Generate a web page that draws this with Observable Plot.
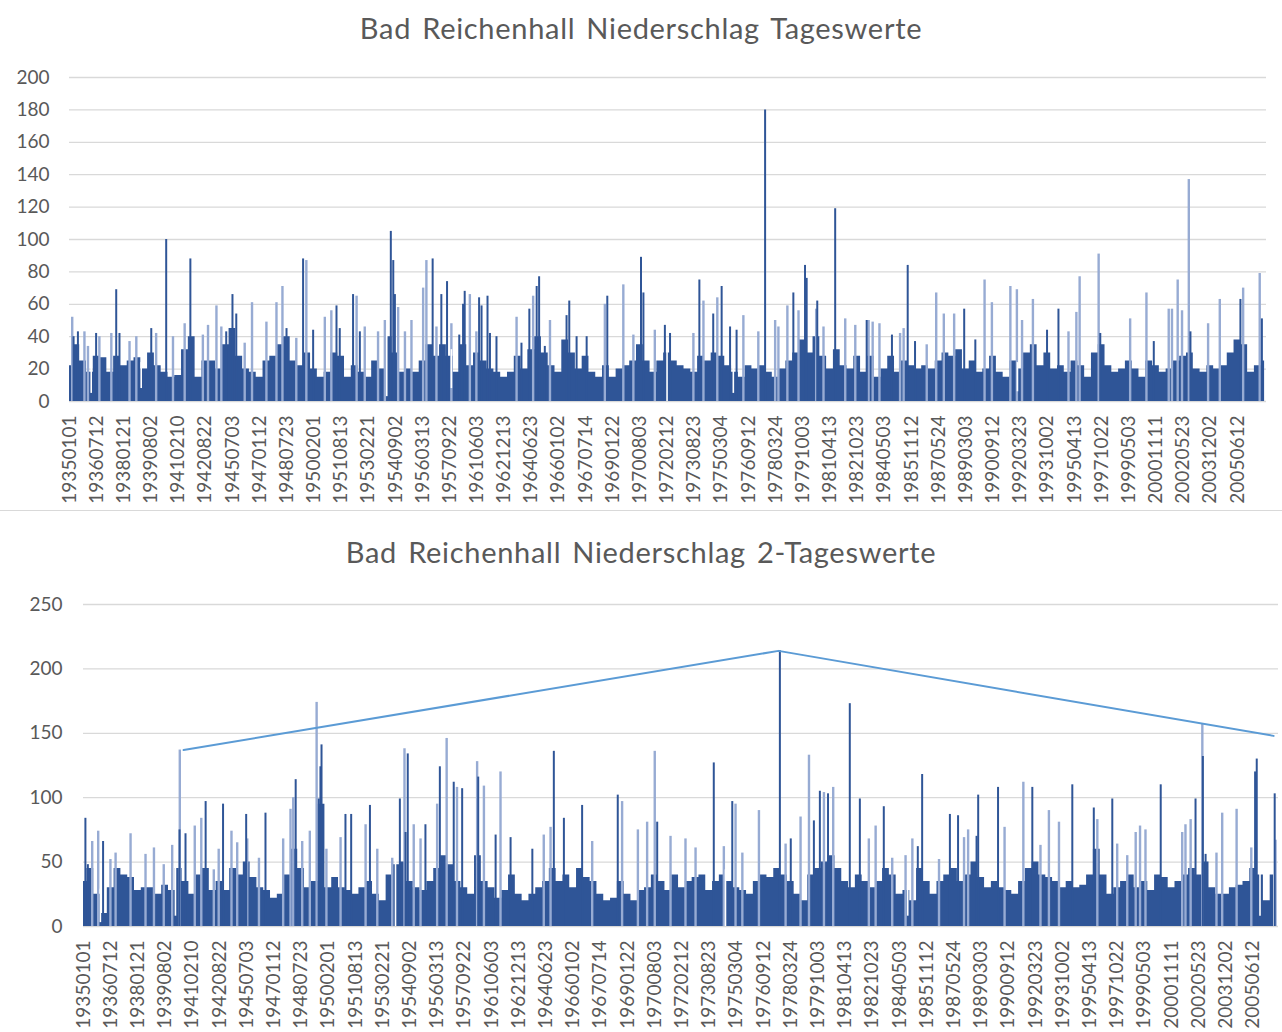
<!DOCTYPE html>
<html>
<head>
<meta charset="utf-8">
<script src="https://cdn.jsdelivr.net/npm/d3@7"></script>
<script src="https://cdn.jsdelivr.net/npm/@observablehq/plot@0.6"></script>
<style>
  html, body { margin: 0; padding: 0; background: #ffffff; }
  body { width: 1282px; height: 1032px; position: relative; overflow: hidden; font-family: Lato, "Open Sans", sans-serif; }
  .title { position: absolute; left: 0; width: 1282px; text-align: center; color: #595959; font-size: 29px; letter-spacing: 0.7px; word-spacing: 3px; }
  .chart { position: absolute; left: 0; }
  .sep { position: absolute; left: 0; width: 1282px; height: 1px; background: #d9d9d9; }
</style>
</head>
<body>
<div class="title" id="t1" style="top:10px">Bad Reichenhall Niederschlag Tageswerte</div>
<div class="chart" id="c1" style="top:60px"></div>
<div class="sep" style="top:510px"></div>
<div class="title" id="t2" style="top:534px">Bad Reichenhall Niederschlag 2-Tageswerte</div>
<div class="chart" id="c2" style="top:590px"></div>
<script>
// Category labels shown on the x axis (every 558th day of the series)
const tickLabels = ["19350101","19360712","19380121","19390802","19410210","19420822","19450703","19470112","19480723","19500201",
  "19510813","19530221","19540902","19560313","19570922","19610603","19621213","19640623","19660102","19670714",
  "19690122","19700803","19720212","19730823","19750304","19760912","19780324","19791003","19810413","19821023",
  "19840503","19851112","19870524","19890303","19900912","19920323","19931002","19950413","19971022","19990503",
  "20001111","20020523","20031202","20050612"];

// Positions are in label intervals (1 = 558 categories). Body sampled every 0.25 interval.
const tagesKoerper = [
  22,35,25,18, 28,27,18,28, 22,25,27,20, 30,22,18,15, 16,32,40,15, 25,25,20,35, 45,28,20,18, 15,25,28,35,
  40,25,22,30, 20,15,18,30, 28,15,22,18, 15,25,20,40, 30,18,20,18, 25,35,28,35, 28,18,35,22, 30,25,20,18,
  15,18,28,20, 32,40,30,22, 18,38,30,20, 28,18,15,22, 15,20,22,25, 35,25,18,25, 30,25,22,20, 18,28,25,30,
  28,22,18,15, 22,20,22,18, 15,20,25,30, 38,30,40,28, 20,32,22,20, 28,18,28,15, 20,28,18,25, 22,20,22,20,
  25,30,28,32, 20,25,18,20, 28,18,15,25, 20,30,35,22, 30,20,22,18, 25,22,15,30, 35,22,18,20, 25,20,15,25,
  22,18,20,25, 28,30,20,18, 22,20,22,30, 38,35,18,22, 25];

// Single days rising above the body: [position, value, dark(1)/light(0)]
const tagesSpitzen = [
  [0.1,52,0],[0.15,40,1],[0.31,43,1],[0.55,43,0],[0.68,34,0],[0.98,42,1],[1.1,40,0],[1.54,42,0],[1.72,69,1],[1.84,42,1],
  [2.21,37,0],[2.46,40,0],[3.01,45,1],[3.19,42,0],[3.56,100,1],[3.81,40,0],[4.24,48,0],[4.45,88,1],[4.91,41,0],[5.1,47,0],
  [5.41,59,0],[5.59,46,0],[5.77,43,1],[6.0,66,1],[6.14,54,1],[6.45,36,0],[6.72,61,0],[7.25,49,0],[7.62,61,0],[7.84,71,0],
  [7.99,45,1],[8.35,39,0],[8.6,88,1],[8.72,87,0],[8.97,44,1],[9.4,52,0],[9.64,56,0],[9.83,59,1],[9.95,45,1],[10.44,66,1],
  [10.57,65,0],[10.69,43,1],[10.87,46,0],[11.36,43,0],[11.61,50,0],[11.83,105,1],[11.92,87,1],[11.98,66,1],[12.1,58,0],[12.35,43,0],
  [12.59,50,0],[13.02,70,0],[13.14,87,0],[13.37,88,1],[13.51,46,0],[13.69,66,1],[13.9,74,1],[14.06,48,0],[14.35,41,1],[14.49,60,1],
  [14.55,68,1],[14.74,66,0],[14.98,43,0],[15.08,64,1],[15.17,59,1],[15.39,65,1],[15.48,42,1],[15.72,40,1],[16.46,52,0],[16.64,36,1],
  [16.93,57,1],[17.07,65,0],[17.2,71,1],[17.29,77,1],[17.5,34,1],[17.69,50,0],[18.3,53,1],[18.4,62,1],[18.67,40,1],[19.04,40,1],
  [19.71,60,0],[19.8,65,1],[20.39,72,0],[20.76,41,0],[21.04,89,1],[21.13,67,1],[21.55,44,0],[21.92,47,1],[22.11,42,1],[22.97,42,0],
  [23.19,75,1],[23.34,62,0],[23.7,54,1],[23.85,64,0],[24.01,71,1],[24.32,46,1],[24.56,44,1],[24.81,53,0],[25.36,43,0],[25.61,180,1],
  [25.98,50,0],[26.1,46,0],[26.43,59,0],[26.65,67,1],[26.84,56,0],[27.08,84,1],[27.14,76,1],[27.49,57,0],[27.53,62,1],[27.76,46,0],
  [28.19,119,1],[28.56,51,0],[28.93,47,0],[29.35,50,1],[29.42,50,0],[29.57,49,0],[29.82,48,0],[30.28,41,1],[30.58,42,0],[30.71,45,0],
  [30.86,84,1],[31.13,37,1],[31.56,35,0],[31.91,67,0],[32.19,54,0],[32.57,54,0],[32.94,57,1],[33.35,38,1],[33.69,75,0],[33.96,61,0],
  [34.64,71,0],[34.88,69,0],[35.07,50,0],[35.47,63,0],[35.99,44,1],[36.41,57,1],[36.78,43,0],[37.07,55,0],[37.19,77,0],[37.89,91,0],
  [37.95,42,1],[39.05,51,0],[39.65,67,0],[39.92,37,1],[40.47,57,0],[40.59,57,0],[40.8,75,0],[40.96,56,0],[41.21,137,0],[41.27,43,1],
  [41.92,48,0],[42.35,63,0],[43.11,63,1],[43.21,70,0],[43.82,79,0],[43.9,51,1]];

// Days well below the body: [position, value]
const tagesLuecken = [[0.8,5],[2.64,8],[11.68,3],[14.06,8],[22.0,0],[24.44,5],[34.9,6]];

const zweiKoerper = [
  35,45,25,10, 30,45,40,38, 28,30,30,25, 32,28,45,35, 25,40,45,28, 35,28,45,40, 50,38,30,28, 22,25,40,60,
  45,30,35,95, 30,38,30,28, 25,30,35,25, 20,40,48,50, 35,30,28,35, 45,55,48,35, 30,25,55,35, 30,22,28,40,
  25,20,25,30, 35,45,35,40, 30,45,38,35, 25,20,22,35, 25,20,28,30, 40,35,28,40, 30,35,38,40, 28,35,40,35,
  30,28,25,35, 40,38,45,40, 35,25,20,40, 45,50,55,45, 35,30,40,35, 30,35,45,40, 25,28,20,45, 35,25,35,40,
  45,35,40,50, 38,30,35,30, 28,25,35,45, 50,40,38,35, 30,35,30,32, 40,60,40,25, 30,35,40,30, 35,28,40,38,
  30,35,40,45, 40,50,30,25, 25,30,32,35, 45,40,20,40];

const zweiSpitzen = [
  [0.07,84,1],[0.16,48,1],[0.32,66,0],[0.54,74,0],[0.72,66,1],[0.99,52,0],[1.18,57,0],[1.73,72,0],[2.28,56,0],[2.59,61,0],
  [2.95,48,0],[3.26,63,0],[3.54,137,0],[3.53,75,1],[3.75,72,1],[4.09,78,0],[4.33,84,0],[4.49,97,1],[4.79,44,0],[4.97,60,0],
  [5.13,95,1],[5.44,74,0],[5.65,65,0],[5.98,87,1],[6.02,68,0],[6.45,53,0],[6.69,88,1],[7.34,68,0],[7.61,91,0],[7.71,100,0],
  [7.8,114,1],[8.04,66,0],[8.32,74,0],[8.57,174,0],[8.65,99,1],[8.71,124,1],[8.75,141,1],[8.93,60,0],[9.45,69,0],[9.63,87,1],
  [9.84,87,1],[10.37,79,0],[10.53,94,1],[10.8,60,0],[11.35,53,0],[11.63,99,1],[11.8,138,0],[11.92,134,1],[11.84,73,1],[12.14,79,0],
  [12.39,68,0],[12.57,79,1],[13.0,95,0],[13.1,124,1],[13.35,146,0],[13.61,112,1],[13.73,108,0],[13.92,107,1],[14.47,128,0],[14.51,116,1],
  [14.72,109,0],[15.15,71,1],[15.33,120,0],[15.7,69,1],[16.5,60,1],[16.92,71,0],[17.17,77,0],[17.29,136,1],[17.66,84,1],[18.33,94,1],
  [18.7,66,0],[19.64,102,1],[19.8,97,0],[20.38,75,0],[20.72,81,0],[21.0,136,0],[21.09,81,1],[21.58,70,0],[22.13,68,0],[22.5,61,0],
  [23.17,127,1],[23.54,62,0],[23.85,97,1],[23.97,95,0],[24.22,57,0],[24.83,90,0],[25.6,214,1],[25.81,64,0],[26.0,68,1],[26.36,85,0],
  [26.67,133,0],[26.85,82,1],[27.07,105,1],[27.22,104,0],[27.37,103,1],[27.56,108,0],[28.17,173,1],[28.54,99,1],[28.87,68,0],[29.12,78,0],
  [29.42,93,1],[29.73,53,0],[30.22,55,0],[30.47,68,0],[30.67,62,1],[30.83,118,1],[31.45,52,0],[31.85,87,1],[32.15,86,1],[32.37,69,0],
  [32.52,75,0],[32.83,70,1],[32.89,102,1],[33.62,108,1],[33.86,77,0],[34.55,112,0],[34.88,108,1],[35.18,63,0],[35.49,90,0],[35.86,81,0],
  [36.35,110,1],[37.14,92,1],[37.27,83,0],[37.82,99,1],[38.0,64,0],[38.37,55,0],[38.68,73,0],[38.84,78,0],[39.04,75,0],[39.6,110,1],
  [40.39,73,0],[40.51,79,0],[40.7,83,0],[40.88,99,1],[41.13,157,0],[41.15,132,1],[41.25,56,1],[41.65,57,0],[41.86,88,0],[42.39,91,0],
  [42.93,61,0],[43.07,120,1],[43.13,130,1],[43.79,103,1],[43.82,67,0]];

const zweiLuecken = [[0.62,3],[3.38,8],[11.47,0],[23.6,0],[30.3,8],[43.25,8]];

// Hand-drawn envelope line over the 2-day maxima
const trendPos = [3.68, 25.55, 43.75];
const trendWert = [137, 214, 148];

const DARK = "#2f5597", LIGHT = "#97abd3", GRID = "#d9d9d9";

function panel({body, spikes, gaps, xMax, plotRight, yMax, yStep, marginLeft, marginTop, plotH, marginBottom, tickPad, trend}) {
  const yTicks = d3.range(0, yMax + 1, yStep);
  const bodyData = body.map((v, i) => ({x: i * 0.25, y: v}));
  const marks = [
    Plot.ruleY(yTicks, {stroke: GRID, strokeWidth: 1.3}),
    Plot.axisY(yTicks, {label: null, tickSize: 0, tickPadding: tickPad, fontSize: 19, fill: "#595959"}),
    Plot.areaY(bodyData, {x: "x", y: "y", curve: "step", fill: DARK}),
    Plot.ruleX(spikes.filter(d => !d[2]), {x: d => d[0], y1: 0, y2: d => d[1], stroke: LIGHT, strokeWidth: 2.4}),
    Plot.ruleX(spikes.filter(d => d[2]), {x: d => d[0], y1: 0, y2: d => d[1], stroke: DARK, strokeWidth: 2}),
    Plot.ruleX(gaps, {x: d => d[0], y1: d => d[1], y2: d => body[Math.min(body.length - 1, Math.round(d[0] * 4))] + 4, stroke: "#ffffff", strokeWidth: 1.6}),
    Plot.axisX(d3.range(tickLabels.length), {label: null, tickFormat: i => tickLabels[i], tickRotate: -90, tickSize: 0, tickPadding: 14, fontSize: 19, fill: "#595959"})
  ];
  if (trend) marks.push(Plot.line(trend, {x: "x", y: "y", stroke: "#5b9bd5", strokeWidth: 2}));
  return Plot.plot({
    width: 1282,
    height: marginTop + plotH + marginBottom,
    marginLeft, marginRight: 1282 - plotRight,
    marginTop, marginBottom,
    style: {fontFamily: "Lato, 'Open Sans', sans-serif", color: "#595959", background: "transparent", overflow: "visible"},
    x: {domain: [0, xMax], axis: null},
    y: {domain: [0, yMax], axis: null},
    marks
  });
}

document.getElementById("c1").appendChild(panel({
  body: tagesKoerper, spikes: tagesSpitzen, gaps: tagesLuecken,
  xMax: 44.07, plotRight: 1266, yMax: 200, yStep: 20,
  marginLeft: 69, marginTop: 17, plotH: 324, marginBottom: 110, tickPad: 20
}));

document.getElementById("c2").appendChild(panel({
  body: zweiKoerper, spikes: zweiSpitzen, gaps: zweiLuecken,
  xMax: 43.93, plotRight: 1278, yMax: 250, yStep: 50,
  marginLeft: 83, marginTop: 14, plotH: 322, marginBottom: 96, tickPad: 21,
  trend: trendPos.map((x, i) => ({x, y: trendWert[i]}))
}));
</script>
</body>
</html>
